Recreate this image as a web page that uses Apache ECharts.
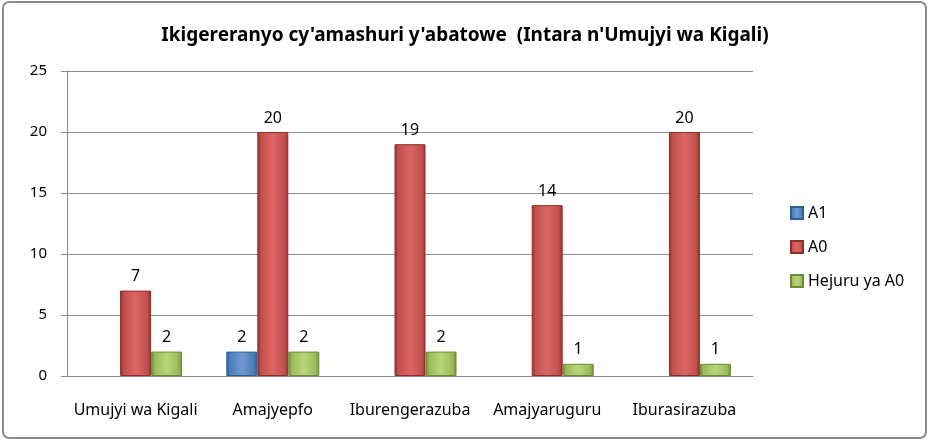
<!DOCTYPE html>
<html lang="rw">
<head>
  <meta charset="UTF-8">
  <title>Ikigereranyo</title>
  <script src="https://cdn.jsdelivr.net/npm/echarts@6/dist/echarts.min.js"></script>
</head>
<body style="margin:0">
  <div id="app" style="width: 930px; height: 441px;"></div>
  <script>
    var categories = ['Umujyi wa Kigali', 'Amajyepfo', 'Iburengerazuba', 'Amajyaruguru', 'Iburasirazuba']
    var seriesNames = ['A1', 'A0', 'Hejuru ya A0']
    var a1 = [null, 2, null, null, null]
    var a0 = [7, 20, 19, 14, 20]
    var hejuru = [2, 2, 2, 1, 1]
    var yTicks = [0, 5, 10, 15, 20, 25]

    var font = 'Noto Sans'

    // bar fill with a little bevel, like the office chart
    function fill(dark, mid, light) {
      return new echarts.graphic.LinearGradient(0, 0, 1, 0, [
        { offset: 0, color: dark },
        { offset: 0.12, color: mid },
        { offset: 0.5, color: light },
        { offset: 0.88, color: mid },
        { offset: 1, color: dark }
      ])
    }

    function bar(name, data, colors) {
      return {
        name: name,
        type: 'bar',
        data: data,
        barWidth: 31,
        barGap: '0%',
        itemStyle: {
          color: fill(colors[0], colors[1], colors[2]),
          borderColor: colors[0],
          borderWidth: 1
        },
        label: {
          show: true,
          position: 'top',
          distance: 6,
          color: '#000',
          fontFamily: font,
          fontSize: 16
        }
      }
    }

    var mCharts = echarts.init(document.querySelector('#app'))
    var option = {
      animation: false,
      color: ['#4F81BD', '#C0504D', '#9BBB59'],
      graphic: [{
        type: 'rect',
        shape: { x: 3, y: 2, width: 923, height: 436, r: 6 },
        style: { fill: 'none', stroke: '#8c8c8c', lineWidth: 2 },
        silent: true
      }],
      title: {
        text: "Ikigereranyo cy'amashuri y'abatowe  (Intara n'Umujyi wa Kigali)",
        left: 'center',
        top: 21,
        textStyle: { fontFamily: font, fontSize: 19, fontWeight: 'bold', color: '#000' }
      },
      legend: {
        orient: 'vertical',
        left: 785,
        top: 200,
        icon: 'rect',
        itemWidth: 12,
        itemHeight: 12,
        itemGap: 18,
        data: seriesNames,
        textStyle: { fontFamily: font, fontSize: 16, color: '#000' }
      },
      grid: { left: 67, right: 177, top: 71, bottom: 65 },
      xAxis: {
        type: 'category',
        data: categories,
        axisLine: { lineStyle: { color: '#8c8c8c' } },
        axisTick: { show: false },
        axisLabel: { interval: 0, color: '#000', fontFamily: font, fontSize: 16, margin: 26 }
      },
      yAxis: {
        type: 'value',
        min: yTicks[0],
        max: yTicks[yTicks.length - 1],
        interval: 5,
        axisLine: { show: true, lineStyle: { color: '#8c8c8c' } },
        axisTick: { show: true, length: 6, lineStyle: { color: '#8c8c8c' } },
        splitLine: { lineStyle: { color: '#8c8c8c' } },
        axisLabel: { color: '#000', fontFamily: font, fontSize: 15, margin: 20 }
      },
      series: [
        bar(seriesNames[0], a1, ['#2f5f94', '#4A7EBB', '#6f9ad0']),
        bar(seriesNames[1], a0, ['#8e2f2c', '#C0504D', '#dd6663']),
        bar(seriesNames[2], hejuru, ['#6f8a36', '#9BBB59', '#b8d67a'])
      ]
    }
    mCharts.setOption(option)
  </script>
</body>
</html>
